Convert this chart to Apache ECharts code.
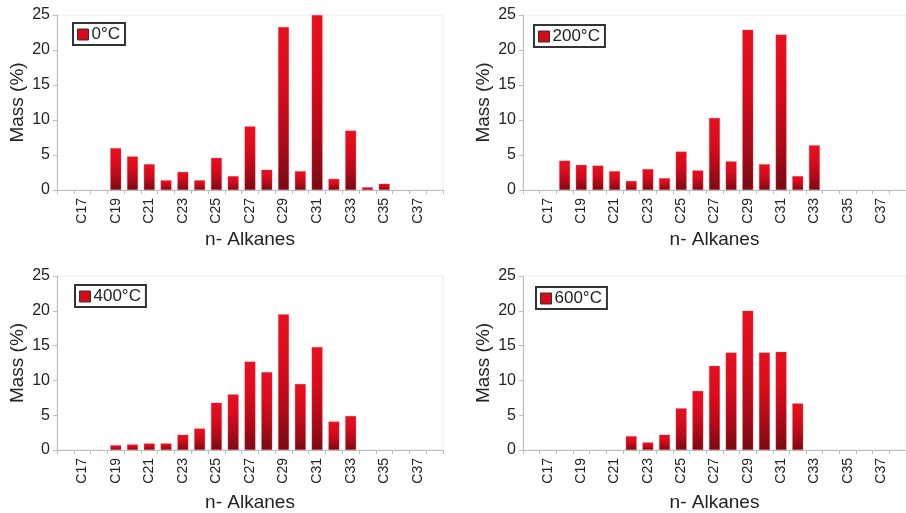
<!DOCTYPE html>
<html>
<head>
<meta charset="utf-8">
<script src="https://cdn.jsdelivr.net/npm/echarts@6/dist/echarts.min.js"></script>
<style>
html,body{margin:0;padding:0;background:#fff;}
#c{width:906px;height:513px;}
</style>
</head>
<body>
<div id="c"></div>
<script>
// Categories (n-alkanes C16..C38)
const categories = ['C16','C17','C18','C19','C20','C21','C22','C23','C24','C25','C26','C27','C28','C29','C30','C31','C32','C33','C34','C35','C36','C37','C38'];
const yTicks = [0, 5, 10, 15, 20, 25];
const seriesNames = ['0°C', '200°C', '400°C', '600°C'];
// Mass (%) values, aligned with categories
const mass0 = [null,null,null,6.0,4.8,3.7,1.4,2.6,1.4,4.6,2.0,9.1,2.9,23.3,2.7,25.0,1.6,8.5,0.4,0.9,null,null,null];
const mass200 = [null,null,4.2,3.6,3.5,2.7,1.3,3.0,1.7,5.5,2.8,10.3,4.1,22.9,3.7,22.2,2.0,6.4,null,null,null,null,null];
const mass400 = [null,null,null,0.7,0.8,0.95,0.95,2.2,3.1,6.8,8.0,12.7,11.2,19.5,9.5,14.8,4.1,4.9,null,null,null,null,null];
const mass600 = [null,null,null,null,null,null,2.0,1.1,2.2,6.0,8.5,12.1,14.0,20.0,14.0,14.1,6.7,null,null,null,null,null,null];
const allData = [mass0, mass200, mass400, mass600];

const chart = echarts.init(document.getElementById('c'), null, {renderer: 'canvas'});

const grids = [
  {left: 57, top: 15, width: 386, height: 175},
  {left: 523, top: 15, width: 386, height: 175},
  {left: 57, top: 276, width: 386, height: 174},
  {left: 523, top: 276, width: 386, height: 174}
];
const nameGaps = [40, 40, 43, 43];
const legendPos = [
  {left: 73, top: 23},
  {left: 534, top: 25},
  {left: 75, top: 285},
  {left: 536, top: 287}
];

const barColor = new echarts.graphic.LinearGradient(0, 0, 0, 1, [
  {offset: 0, color: '#e8101f'},
  {offset: 0.35, color: '#db0b1b'},
  {offset: 0.7, color: '#b00a18'},
  {offset: 1, color: '#780a12'}
]);

const option = {
  animation: false,
  backgroundColor: '#fff',
  textStyle: {fontFamily: 'Liberation Sans, Arial, sans-serif'},
  grid: grids.map(g => Object.assign({show: true, borderColor: '#ececec', borderWidth: 1, containLabel: false}, g)),
  legend: legendPos.map((p, i) => ({
    data: [seriesNames[i]],
    left: p.left, top: p.top,
    orient: 'horizontal',
    icon: 'rect',
    itemWidth: 11, itemHeight: 11,
    itemGap: 4,
    padding: [3, 5, 2, 4],
    borderColor: '#333',
    borderWidth: 2,
    backgroundColor: '#fff',
    selectedMode: false,
    itemStyle: {color: '#d60a1a', borderColor: '#333', borderWidth: 1},
    textStyle: {fontSize: 17, color: '#222', padding: [0, 0, 0, -2]}
  })),
  xAxis: grids.map((g, i) => ({
    type: 'category',
    gridIndex: i,
    data: categories,
    name: 'n- Alkanes',
    nameLocation: 'middle',
    nameGap: nameGaps[i],
    nameTextStyle: {fontSize: 19, color: '#222'},
    axisLine: {show: true, lineStyle: {color: '#bdbdbd', width: 1}},
    axisTick: {show: true, interval: 0, length: 4, lineStyle: {color: '#bdbdbd'}},
    axisLabel: {
      interval: (idx) => idx % 2 === 1,
      rotate: 90,
      fontSize: 14,
      color: '#222',
      margin: 8
    },
    splitLine: {show: false}
  })),
  yAxis: grids.map((g, i) => ({
    type: 'value',
    gridIndex: i,
    min: yTicks[0],
    max: yTicks[yTicks.length - 1],
    interval: 5,
    name: 'Mass (%)',
    nameLocation: 'middle',
    nameGap: 30,
    nameTextStyle: {fontSize: 19, color: '#222'},
    axisLine: {show: true, lineStyle: {color: '#bdbdbd', width: 1}},
    axisTick: {show: true, length: 4, lineStyle: {color: '#bdbdbd'}},
    axisLabel: {fontSize: 16, color: '#222', margin: 7},
    splitLine: {show: false}
  })),
  series: allData.map((d, i) => ({
    name: seriesNames[i],
    type: 'bar',
    xAxisIndex: i,
    yAxisIndex: i,
    data: d,
    barWidth: 11,
    itemStyle: {color: barColor, borderColor: 'rgba(240,90,100,0.6)', borderWidth: 0.5}
  }))
};
chart.setOption(option);
</script>
</body>
</html>
